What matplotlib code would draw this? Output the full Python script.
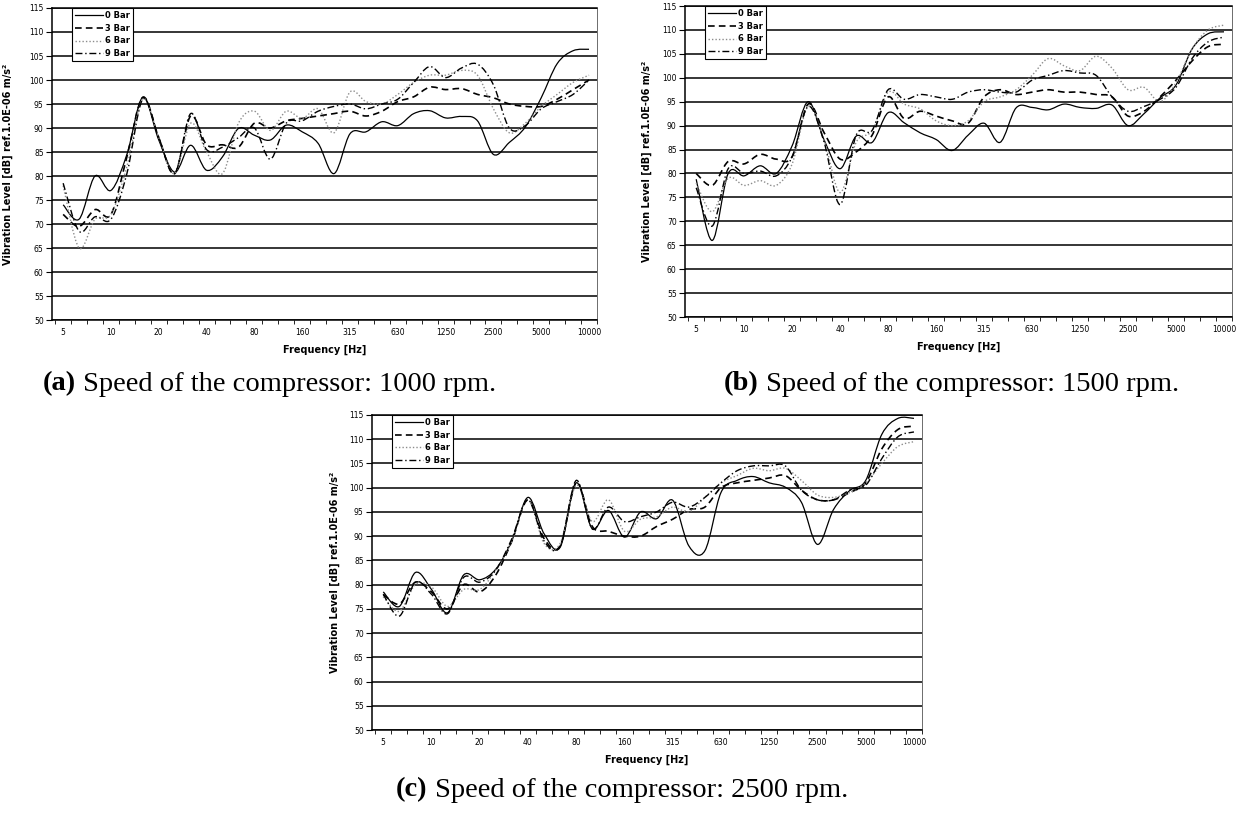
import matplotlib
matplotlib.use("Agg")
import matplotlib.pyplot as plt
import numpy as np
from matplotlib.path import Path
from matplotlib.patches import PathPatch
from matplotlib.lines import Line2D

# 1/3-octave bands (Hz)
freqs = [5, 6.3, 8, 10, 12.5, 16, 20, 25, 31.5, 40, 50, 63, 80, 100, 125, 160,
         200, 250, 315, 400, 500, 630, 800, 1000, 1250, 1600, 2000, 2500, 3150,
         4000, 5000, 6300, 8000, 10000]
series_names = ["0 Bar", "3 Bar", "6 Bar", "9 Bar"]

# (a) 1000 rpm
a_0bar = [74, 71, 80, 77, 84.5, 96.4, 87.5, 80.8, 86.4, 81.2, 84, 89.9, 88.5, 87.5, 90.6, 89.2, 86.8,
          80.5, 88.8, 89.2, 91.3, 90.5, 93, 93.6, 92.1, 92.4, 91.5, 84.5, 87, 90.2, 96.3, 103.4, 106.1, 106.4]
a_3bar = [72, 69.5, 73, 72, 84, 96.4, 88, 80.5, 92.5, 86.5, 86.5, 86, 91, 90, 91.5, 92, 92.5,
          93, 93.5, 92.5, 93.5, 95.5, 96.5, 98.5, 98, 98.2, 97, 96.3, 95, 94.5, 94.5, 96, 98, 100]
a_6bar = [78, 65, 71, 72, 82, 96, 88, 80.5, 91, 85, 80.5, 91, 93.5, 89.5, 93.5, 92, 94,
          89, 97.5, 95.5, 95, 97, 99.5, 101, 101, 102, 101, 94, 89, 91, 94.5, 97, 99.5, 101]
a_9bar = [78.5, 68.5, 71.5, 71, 80.5, 96, 88, 80.5, 93, 85.5, 86, 88, 90, 83.5, 91, 91.5, 93.5,
          94.5, 95, 94, 95, 96, 99.5, 102.8, 100.5, 102.5, 103.3, 99, 90, 90.5, 94, 95.5, 97, 100]

# (b) 1500 rpm
b_0bar = [78.8, 66, 80, 79.5, 81.6, 80, 85.8, 95, 87, 81, 87.8, 86.5, 92.7, 90.6, 88.5, 87.1, 84.8,
          88, 90.5, 86.5, 93.7, 93.8, 93.3, 94.5, 93.8, 93.6, 94.3, 90, 92.5, 95.8, 98.5, 106, 109.2, 109.6]
b_3bar = [80, 77.5, 82.5, 82, 84, 83, 83.5, 94.5, 88.5, 83, 84.5, 88, 96, 91.5, 93, 92, 91,
          90.5, 96, 97.5, 96.5, 97, 97.5, 97, 97, 96.5, 96, 92, 93, 96, 99.5, 103.5, 106.5, 107]
b_6bar = [78, 72, 79, 77.5, 78.5, 77.5, 82, 94, 87, 76, 86.5, 89, 97, 94.5, 93.5, 91, 90,
          91, 95, 96, 97.5, 100.5, 104, 102.5, 101.5, 104.5, 102, 97.5, 98, 95, 99, 106, 110, 111]
b_9bar = [77, 69, 81, 80, 80.5, 79.5, 83.5, 94, 86.5, 73.5, 88, 89, 97.5, 95.5, 96.5, 96, 95.5,
          97, 97.5, 97, 97, 99.5, 100.5, 101.5, 101, 100.5, 96, 93, 94, 95.5, 98, 104, 107.5, 108.5]

# (c) 2500 rpm
c_0bar = [78.5, 75.5, 82.5, 79, 74.2, 82, 81, 83.2, 89.1, 98, 90.5, 87.7, 101, 91.5, 95.3, 89.8, 95,
          93.6, 97.4, 88, 87, 99, 101.5, 102.3, 101, 100.1, 97, 88.3, 95.5, 99.4, 101.5, 111, 114.3, 114.3]
c_3bar = [78, 76, 80.5, 78.5, 75, 80, 78.5, 82, 89, 97.5, 89.5, 88, 101, 92, 91, 90, 90,
          92, 93.5, 95.5, 96, 100, 101, 101.5, 102, 102.5, 99.5, 97.5, 97.5, 99, 101, 108, 112, 112.7]
c_6bar = [77.5, 74.5, 80, 79.5, 75.5, 79, 79, 83, 89, 97.5, 88.5, 88.5, 100.5, 93, 97.5, 91, 93.5,
          94, 96, 95, 98, 101, 102.5, 104, 103.5, 104, 101.5, 98.5, 98, 99, 101, 105, 108.5, 109.5]
c_9bar = [78, 73.5, 80.5, 78, 74, 81.5, 80.5, 83, 89.5, 97.5, 89, 88, 101.5, 91.5, 96, 93, 94,
          95, 97, 96, 98, 101, 103.5, 104.5, 104.5, 104.5, 99.5, 97.5, 97.5, 99.5, 100.5, 106, 110.5, 111.5]

styles = [
    dict(color="black", lw=0.9, ls="-"),
    dict(color="black", lw=1.2, ls=(0, (4, 2.5))),
    dict(color="#8c8c8c", lw=1.0, ls=(0, (1, 1.5))),
    dict(color="black", lw=1.0, ls=(0, (5, 2, 1, 2))),
]

plt.rcParams["font.family"] = "DejaVu Sans"


def smooth_path(x, y):
    # Excel-like smoothed line: Catmull-Rom segments as cubic Beziers
    pts = np.column_stack([x, y]).astype(float)
    n = len(pts)
    verts = [pts[0]]
    codes = [Path.MOVETO]
    for i in range(n - 1):
        p0 = pts[max(i - 1, 0)]
        p1 = pts[i]
        p2 = pts[i + 1]
        p3 = pts[min(i + 2, n - 1)]
        verts += [p1 + (p2 - p0) / 6, p2 - (p3 - p1) / 6, p2]
        codes += [Path.CURVE4] * 3
    return Path(verts, codes)


def draw_panel(ax, data):
    xpos = np.arange(len(freqs))
    ax.set_xlim(-0.7, len(freqs) - 0.6)
    ax.set_ylim(50, 115)
    ax.set_yticks(np.arange(50, 116, 5))
    ax.yaxis.grid(True, color="black", lw=1.1)
    ax.set_axisbelow(True)
    handles = []
    for vals, st, name in zip(data, styles, series_names):
        patch = PathPatch(smooth_path(xpos, vals), facecolor="none",
                          edgecolor=st["color"], lw=st["lw"], linestyle=st["ls"])
        ax.add_patch(patch)
        handles.append(Line2D([], [], color=st["color"], lw=st["lw"], ls=st["ls"]))
    major = xpos[::3]
    ax.set_xticks(major)
    ax.set_xticklabels(["%g" % freqs[i] for i in major], fontsize=5.5)
    ax.set_xticks(np.arange(-0.5, len(freqs), 1.0), minor=True)
    ax.tick_params(axis="x", which="major", length=0, pad=6)
    ax.tick_params(axis="x", which="minor", length=3, width=0.6, direction="out")
    ax.tick_params(axis="y", length=4, width=0.8, labelsize=5.5, pad=2)
    for side in ["left", "bottom", "top"]:
        ax.spines[side].set_linewidth(1.1)
    ax.spines["right"].set_linewidth(0.6)
    ax.spines["right"].set_color("#555555")
    ax.set_xlabel("Frequency [Hz]", fontsize=7, fontweight="bold", labelpad=5)
    ax.set_ylabel("Vibration Level [dB] ref.1.0E-06 m/s²", fontsize=7, fontweight="bold")
    leg = ax.legend(handles, series_names, loc="upper left", bbox_to_anchor=(0.037, 1.0),
                    borderaxespad=0, prop={"weight": "bold", "size": 6}, handlelength=3.3,
                    labelspacing=0.45, borderpad=0.35, handletextpad=0.3,
                    fancybox=False, framealpha=1)
    leg.get_frame().set_edgecolor("black")
    leg.get_frame().set_linewidth(0.8)


W, H = 1243, 818
fig = plt.figure(figsize=(W / 100, H / 100), dpi=100)

ax_a = fig.add_axes([52 / W, 1 - 320 / H, 545 / W, 312 / H])
ax_b = fig.add_axes([685 / W, 1 - 317 / H, 547 / W, 311 / H])
ax_c = fig.add_axes([372 / W, 1 - 730 / H, 550 / W, 315 / H])

draw_panel(ax_a, [a_0bar, a_3bar, a_6bar, a_9bar])
draw_panel(ax_b, [b_0bar, b_3bar, b_6bar, b_9bar])
draw_panel(ax_c, [c_0bar, c_3bar, c_6bar, c_9bar])
ax_a.yaxis.set_label_coords(-0.072, 0.5)
ax_b.yaxis.set_label_coords(-0.06, 0.5)
ax_c.yaxis.set_label_coords(-0.058, 0.5)


def caption(x, y, tag, text):
    t = fig.text(x / W, 1 - y / H, tag, fontsize=20.5, fontweight="bold",
                 family="Liberation Serif", va="center", ha="left")
    plt.annotate(" " + text, xy=(1, 0), xycoords=t, va="bottom", ha="left",
                 fontsize=20.5, family="Liberation Serif")


caption(43, 384, "(a)", "Speed of the compressor: 1000 rpm.")
caption(724, 384, "(b)", "Speed of the compressor: 1500 rpm.")
caption(396, 790, "(c)", "Speed of the compressor: 2500 rpm.")

fig.savefig("out.png", dpi=100)
